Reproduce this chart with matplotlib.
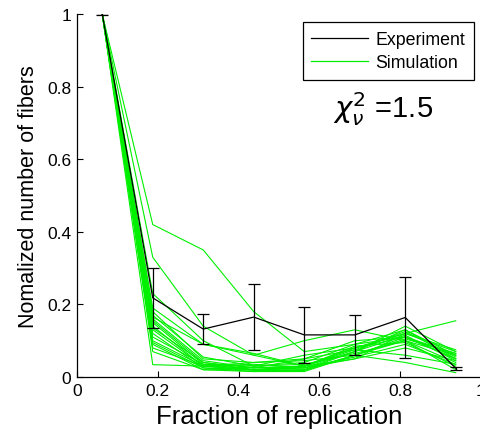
import matplotlib
matplotlib.use("Agg")
import matplotlib.pyplot as plt
from matplotlib.lines import Line2D

plt.rcParams['font.family'] = ['Liberation Sans', 'DejaVu Sans']
plt.rcParams['mathtext.fontset'] = 'dejavusans'

x = [0.0625, 0.1875, 0.3125, 0.4375, 0.5625, 0.6875, 0.8125, 0.9375]
exp_y = [1.0, 0.218, 0.132, 0.165, 0.116, 0.116, 0.164, 0.024]
exp_err = [0.003, 0.082, 0.041, 0.09, 0.077, 0.056, 0.112, 0.004]

sims = [
    [1, 0.42, 0.35, 0.18, 0.07, 0.09, 0.11, 0.05],
    [1, 0.33, 0.14, 0.06, 0.10, 0.13, 0.10, 0.06],
    [1, 0.23, 0.10, 0.03, 0.06, 0.08, 0.12, 0.155],
    [1, 0.19, 0.09, 0.065, 0.03, 0.07, 0.14, 0.07],
    [1, 0.18, 0.05, 0.04, 0.05, 0.10, 0.11, 0.06],
    [1, 0.17, 0.055, 0.03, 0.04, 0.09, 0.13, 0.05],
    [1, 0.165, 0.09, 0.06, 0.03, 0.08, 0.11, 0.065],
    [1, 0.16, 0.045, 0.025, 0.03, 0.08, 0.12, 0.07],
    [1, 0.155, 0.04, 0.02, 0.025, 0.07, 0.115, 0.045],
    [1, 0.15, 0.035, 0.03, 0.035, 0.065, 0.10, 0.04],
    [1, 0.14, 0.03, 0.02, 0.02, 0.06, 0.105, 0.065],
    [1, 0.135, 0.04, 0.025, 0.03, 0.075, 0.125, 0.055],
    [1, 0.13, 0.03, 0.035, 0.025, 0.055, 0.09, 0.035],
    [1, 0.12, 0.025, 0.015, 0.02, 0.07, 0.13, 0.06],
    [1, 0.11, 0.035, 0.02, 0.03, 0.085, 0.095, 0.03],
    [1, 0.10, 0.03, 0.018, 0.018, 0.06, 0.11, 0.05],
    [1, 0.095, 0.025, 0.02, 0.025, 0.05, 0.08, 0.045],
    [1, 0.09, 0.02, 0.015, 0.015, 0.06, 0.10, 0.02],
    [1, 0.08, 0.03, 0.025, 0.05, 0.075, 0.06, 0.035],
    [1, 0.07, 0.02, 0.02, 0.03, 0.05, 0.12, 0.075],
    [1, 0.034, 0.03, 0.04, 0.045, 0.06, 0.04, 0.012],
]

xticks = [0, 0.2, 0.4, 0.6, 0.8, 1]
yticks = [0, 0.2, 0.4, 0.6, 0.8, 1]
xtick_labels = ['0', '0.2', '0.4', '0.6', '0.8', '1']
ytick_labels = ['0', '0.2', '0.4', '0.6', '0.8', '1']

fig = plt.figure(figsize=(4.81, 4.35), dpi=100)
ax = fig.add_axes([77/481, 57/435, 404/481, 363/435])

green = '#00f000'
for i, s in enumerate(sims):
    ax.plot(x, s, color=green, lw=0.8, zorder=2)

ax.errorbar(x, exp_y, yerr=exp_err, color='black', lw=0.9, elinewidth=0.9,
            capsize=4, capthick=0.9, zorder=3)

ax.set_xlim(0, 1)
ax.set_ylim(0, 1)
ax.set_xticks(xticks)
ax.set_xticklabels(xtick_labels)
ax.set_yticks(yticks)
ax.set_yticklabels(ytick_labels)
ax.tick_params(direction='in', labelsize=12.5, length=4, width=0.8, pad=4)
for sp in ['top', 'right']:
    ax.spines[sp].set_visible(False)
for sp in ['left', 'bottom']:
    ax.spines[sp].set_linewidth(0.9)

ax.set_xlabel('Fraction of replication', fontsize=18.5, labelpad=5)
ax.set_ylabel('Nomalized number of fibers', fontsize=15.5, labelpad=6)

h = [Line2D([], [], color='black', lw=0.9), Line2D([], [], color=green, lw=0.9)]
leg = ax.legend(h, ['Experiment', 'Simulation'], loc='upper right',
                bbox_to_anchor=(0.983, 0.978), borderaxespad=0, fontsize=12.8,
                frameon=True, fancybox=False, framealpha=1,
                edgecolor='black', handlelength=3.2, borderpad=0.5, labelspacing=0.35,
                handletextpad=0.4)
leg.get_frame().set_linewidth(0.9)

ax.text(0.634, 0.716, r'$\chi^2_\nu$ =1.5', transform=ax.transAxes, fontsize=21,
        ha='left', va='baseline')

fig.savefig('out.png', dpi=100)
